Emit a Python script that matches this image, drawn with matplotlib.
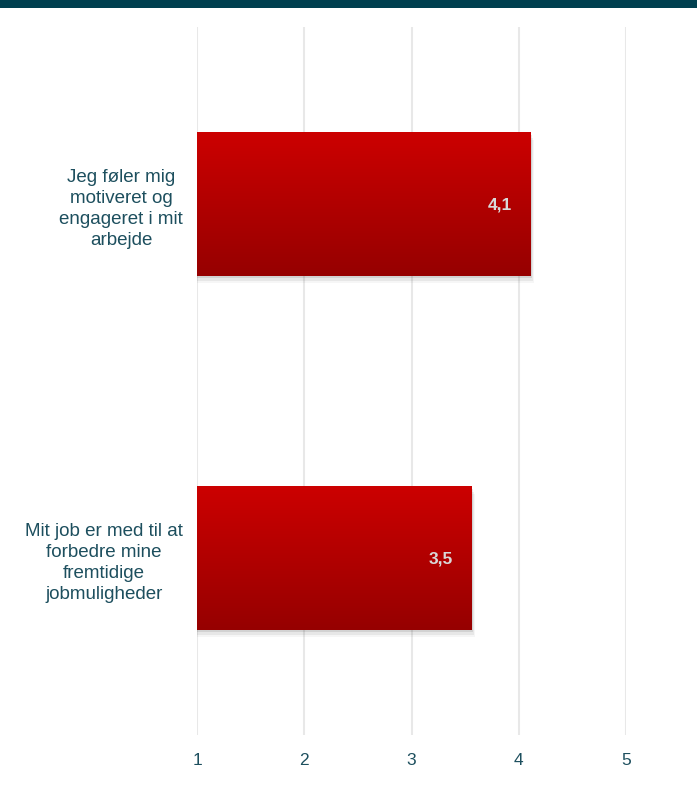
import numpy as np
import matplotlib
matplotlib.use('Agg')
from matplotlib import pyplot as plt
from matplotlib.patches import Rectangle
from matplotlib.colors import LinearSegmentedColormap

categories = ['Jeg føler mig\nmotiveret og\nengageret i mit\narbejde',
              'Mit job er med til at\nforbedre mine\nfremtidige\njobmuligheder']
values = [4.11, 3.56]
value_labels = ['4,1', '3,5']
ticks = [1, 2, 3, 4, 5]

text_color = '#1d4f5e'
plt.rcParams['font.family'] = ['Liberation Sans', 'DejaVu Sans']

fig = plt.figure(figsize=(6.97, 8.04), dpi=100)
fig.patch.set_facecolor('white')
# top band
fig.patches.append(Rectangle((0, 1 - 9 / 804), 1, 9 / 804, transform=fig.transFigure,
                             facecolor='#00404f', edgecolor='none'))

ax = fig.add_axes([197 / 697, 1 - 736 / 804, (626 - 197) / 697, 708 / 804])

base = 1
ypos = np.arange(len(values))
bars = ax.barh(ypos, [v - base for v in values], height=0.404, left=base,
               color='#b80000', zorder=3)

cmap = LinearSegmentedColormap.from_list('red', ['#cc0000', '#960000'])
grad = np.linspace(0, 1, 256).reshape(-1, 1)
for bar, lab in zip(bars, value_labels):
    x0, y0 = bar.get_x(), bar.get_y()
    w, h = bar.get_width(), bar.get_height()
    # soft shadow
    for i, a in enumerate([0.09, 0.06, 0.035]):
        d = 0.012 * (i + 1)
        ax.add_patch(Rectangle((x0, y0 + d * 0.6), w + d, h, facecolor='#000000',
                               alpha=a, edgecolor='none', zorder=2))
    im = ax.imshow(grad, cmap=cmap, aspect='auto', extent=(x0, x0 + w, y0 + h, y0),
                   zorder=4)
    im.set_clip_path(bar)
    ax.text(x0 + w - 0.17, y0 + h / 2, lab, ha='right', va='center', fontsize=12.5,
            fontweight='bold', color='#d9d9d9', zorder=5)

ax.set_xlim(1, 5)
ax.set_ylim(1.5, -0.5)
ax.set_xticks(ticks)
ax.set_xticklabels([str(t) for t in ticks])
ax.set_yticks(ypos)
ax.set_yticklabels(categories, multialignment='center', linespacing=1.3,
                   fontsize=13.5)
ax.tick_params(axis='both', length=0, labelcolor=text_color)
ax.tick_params(axis='x', pad=12, labelsize=12.5)
ax.tick_params(axis='y', pad=10)
ax.grid(axis='x', color='#e8e8e8', linewidth=1.5, zorder=0)
ax.set_axisbelow(True)
for s in ax.spines.values():
    s.set_visible(False)

plt.savefig('out.png', dpi=100)
